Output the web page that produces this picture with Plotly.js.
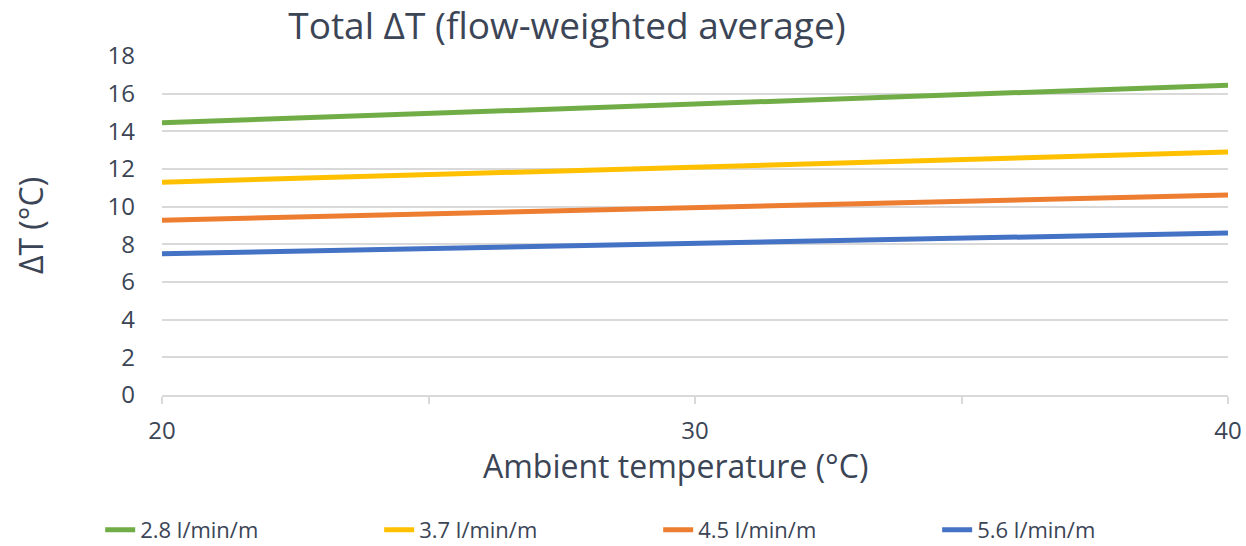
<!DOCTYPE html>
<html>
<head>
<meta charset="utf-8">
<script src="https://cdn.plot.ly/plotly-3.0.1.min.js"></script>
<style>html,body{margin:0;padding:0;background:#fff;}#chart{width:1246px;height:546px;}</style>
</head>
<body>
<div id="chart"></div>
<script>
const ambient = [20, 30, 40];
const seriesNames = ["2.8 l/min/m", "3.7 l/min/m", "4.5 l/min/m", "5.6 l/min/m"];
const dt28 = [14.45, 15.45, 16.45];
const dt37 = [11.3, 12.08, 12.9];
const dt45 = [9.28, 9.95, 10.62];
const dt56 = [7.5, 8.05, 8.6];
const colors = ["#70AD47", "#FFC000", "#ED7D31", "#4472C4"];
const values = [dt28, dt37, dt45, dt56];

const textColor = "#3B4556";
const font = "Open Sans, sans-serif";

const traces = values.map((v, i) => ({
  x: ambient, y: v, name: seriesNames[i], type: "scatter", mode: "lines",
  line: {color: colors[i], width: 5}
}));

const layout = {
  width: 1246, height: 546,
  margin: {l: 162, r: 18, t: 56, b: 151, autoexpand: false},
  paper_bgcolor: "#fff", plot_bgcolor: "#fff",
  font: {family: font, color: textColor},
  title: {text: "Total ΔT (flow-weighted average)", x: 0.455, xanchor: "center", xref: "container",
          y: 0.952, yanchor: "middle", yref: "container",
          font: {size: 37, family: font, color: textColor}},
  xaxis: {
    range: [20, 40], dtick: 10, tick0: 20, showgrid: false, zeroline: false,
    showline: true, linecolor: "#D9D9D9", linewidth: 2,
    ticks: "outside", ticklen: 7, tickcolor: "#D9D9D9", tickwidth: 2,
    minor: {dtick: 5, ticks: "outside", ticklen: 7, tickcolor: "#D9D9D9", tickwidth: 2},
    tickfont: {size: 24, color: textColor},
    ticklabelstandoff: 6, automargin: false
  },
  yaxis: {
    range: [0, 18], dtick: 2, showgrid: true, gridcolor: "#D9D9D9", gridwidth: 2,
    zeroline: false, showline: false, ticks: "",
    tickfont: {size: 24, color: textColor},
    ticklabelstandoff: 26, automargin: false,
    title: {text: "ΔT (°C)", font: {size: 32, color: textColor}, standoff: 54}
  },
  annotations: [{
    text: "Ambient temperature (°C)", xref: "paper", yref: "paper", x: 0.482, y: -0.209,
    xanchor: "center", yanchor: "middle", showarrow: false,
    font: {size: 32, color: textColor, family: font}
  }],
  showlegend: true,
  legend: {orientation: "h", x: -0.058, xanchor: "left", xref: "paper", y: -0.398, yanchor: "middle", yref: "paper",
           entrywidth: 234, entrywidthmode: "pixels", font: {size: 22, color: textColor}, traceorder: "normal",
           itemwidth: 30}
};

Plotly.newPlot("chart", traces, layout, {displayModeBar: false, staticPlot: true});
</script>
</body>
</html>
